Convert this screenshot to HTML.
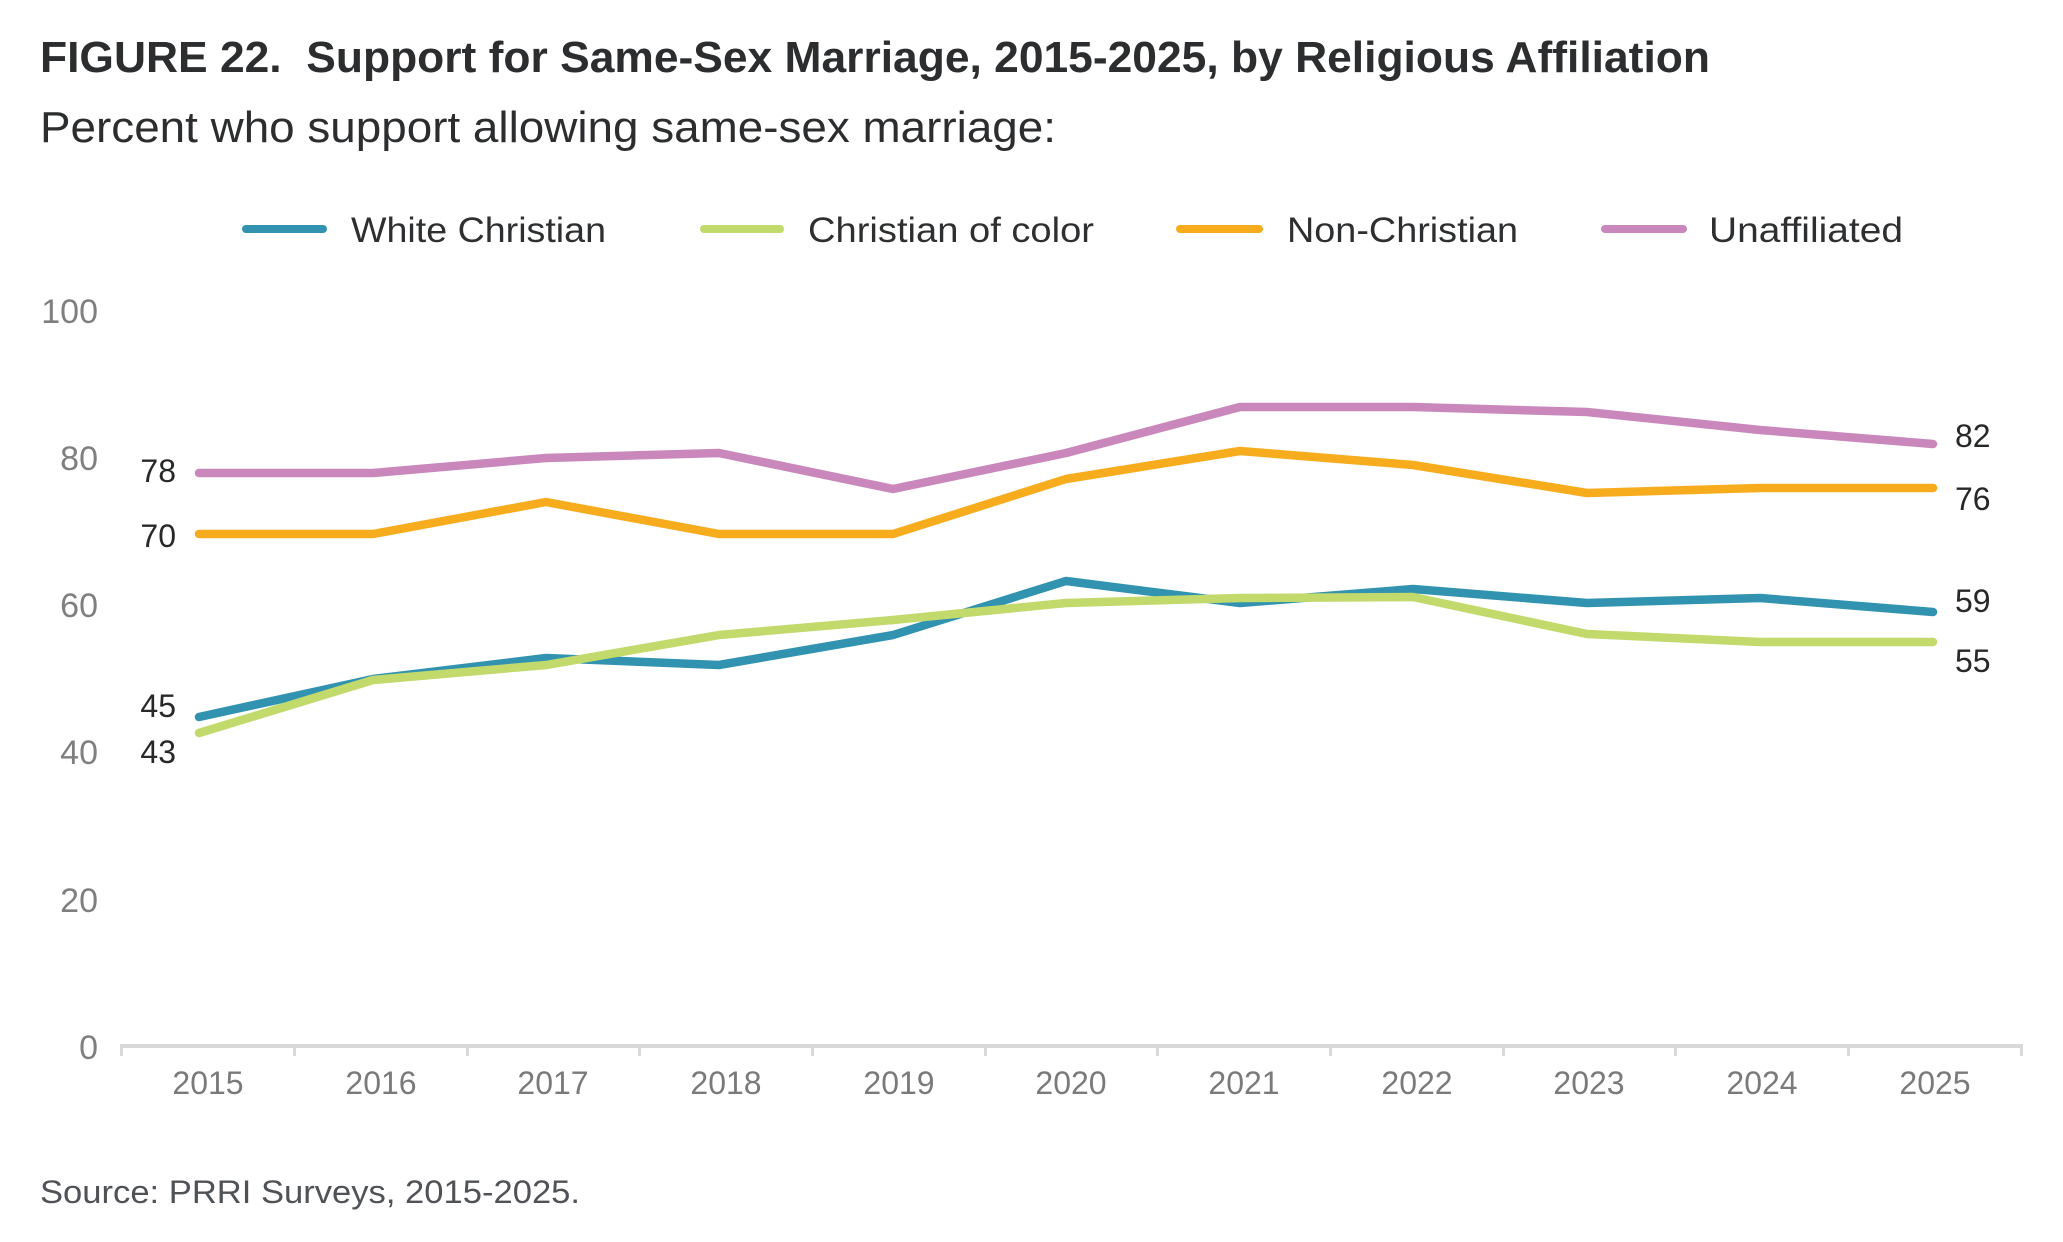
<!DOCTYPE html>
<html>
<head>
<meta charset="utf-8">
<style>
  html, body { margin: 0; padding: 0; background: #ffffff; }
  body { width: 2063px; height: 1242px; overflow: hidden; }
  svg { display: block; }
  text { font-family: "Liberation Sans", "DejaVu Sans", sans-serif; }
</style>
</head>
<body>
<svg width="2063" height="1242" viewBox="0 0 2063 1242" xmlns="http://www.w3.org/2000/svg">
  <rect x="0" y="0" width="2063" height="1242" fill="#ffffff"/>

  <!-- Title -->
  <text x="40" y="72" font-size="44" font-weight="bold" fill="#2b2d2f" textLength="1670" lengthAdjust="spacingAndGlyphs" xml:space="preserve">FIGURE 22.  Support for Same-Sex Marriage, 2015-2025, by Religious Affiliation</text>
  <!-- Subtitle -->
  <text x="40" y="142" font-size="44" fill="#2b2d2f" textLength="1016" lengthAdjust="spacingAndGlyphs">Percent who support allowing same-sex marriage:</text>

  <!-- Legend -->
  <g stroke-width="8" stroke-linecap="round">
    <line x1="246" y1="229" x2="323" y2="229" stroke="#3193b0"/>
    <line x1="704" y1="229" x2="780" y2="229" stroke="#c2d96b"/>
    <line x1="1180" y1="229" x2="1259" y2="229" stroke="#f7ac1d"/>
    <line x1="1605" y1="229" x2="1683" y2="229" stroke="#c987bb"/>
  </g>
  <g font-size="35" fill="#2d2f31">
    <text x="351" y="242" textLength="255" lengthAdjust="spacingAndGlyphs">White Christian</text>
    <text x="808" y="242" textLength="286" lengthAdjust="spacingAndGlyphs">Christian of color</text>
    <text x="1287" y="242" textLength="231" lengthAdjust="spacingAndGlyphs">Non-Christian</text>
    <text x="1709" y="242" textLength="194" lengthAdjust="spacingAndGlyphs">Unaffiliated</text>
  </g>

  <!-- Y axis labels -->
  <g font-size="34" fill="#7f7f7f" text-anchor="end">
    <text x="98" y="323">100</text>
    <text x="98" y="470">80</text>
    <text x="98" y="617">60</text>
    <text x="98" y="764">40</text>
    <text x="98" y="912">20</text>
    <text x="98" y="1059">0</text>
  </g>

  <!-- X axis -->
  <rect x="120" y="1044" width="1903" height="4" fill="#d9d9d9"/>
  <g fill="#d9d9d9">
    <rect x="120" y="1044" width="3" height="12"/>
    <rect x="293" y="1044" width="3" height="12"/>
    <rect x="466" y="1044" width="3" height="12"/>
    <rect x="638" y="1044" width="3" height="12"/>
    <rect x="811" y="1044" width="3" height="12"/>
    <rect x="984" y="1044" width="3" height="12"/>
    <rect x="1156" y="1044" width="3" height="12"/>
    <rect x="1329" y="1044" width="3" height="12"/>
    <rect x="1502" y="1044" width="3" height="12"/>
    <rect x="1674" y="1044" width="3" height="12"/>
    <rect x="1847" y="1044" width="3" height="12"/>
    <rect x="2020" y="1044" width="3" height="12"/>
  </g>
  <g font-size="32" fill="#7a7a7a" text-anchor="middle">
    <text x="208" y="1094">2015</text>
    <text x="381" y="1094">2016</text>
    <text x="553" y="1094">2017</text>
    <text x="726" y="1094">2018</text>
    <text x="899" y="1094">2019</text>
    <text x="1071" y="1094">2020</text>
    <text x="1244" y="1094">2021</text>
    <text x="1417" y="1094">2022</text>
    <text x="1589" y="1094">2023</text>
    <text x="1762" y="1094">2024</text>
    <text x="1935" y="1094">2025</text>
  </g>

  <!-- Series -->
  <g fill="none" stroke-width="8.5" stroke-linecap="round" stroke-linejoin="round">
    <!-- Unaffiliated -->
    <polyline stroke="#c987bb" points="199,473 373,473 546,458 719,453 893,489 1066,453 1240,407 1413,407 1587,412 1760,430 1933,444"/>
    <!-- Non-Christian -->
    <polyline stroke="#f7ac1d" points="199,534 373,534 546,502 719,534 893,534 1066,479 1240,451 1413,465 1587,493 1760,488 1933,488"/>
    <!-- White Christian -->
    <polyline stroke="#3193b0" points="199,717 373,679 546,658 719,665 893,635 1066,581 1240,603 1413,589 1587,603 1760,598 1933,612"/>
    <!-- Christian of color -->
    <polyline stroke="#c2d96b" points="199,733 373,680 546,665 719,635 893,620 1066,603 1240,598 1413,597 1587,634 1760,642 1933,642"/>
  </g>

  <!-- Data labels -->
  <g font-size="32" fill="#26282a">
    <text x="176" y="482" text-anchor="end">78</text>
    <text x="176" y="547" text-anchor="end">70</text>
    <text x="176" y="717" text-anchor="end">45</text>
    <text x="176" y="763" text-anchor="end">43</text>
    <text x="1955" y="447">82</text>
    <text x="1955" y="510">76</text>
    <text x="1955" y="612">59</text>
    <text x="1955" y="672">55</text>
  </g>

  <!-- Source -->
  <text x="40" y="1203" font-size="32" fill="#4f5256" textLength="540" lengthAdjust="spacingAndGlyphs">Source: PRRI Surveys, 2015-2025.</text>
</svg>
</body>
</html>
